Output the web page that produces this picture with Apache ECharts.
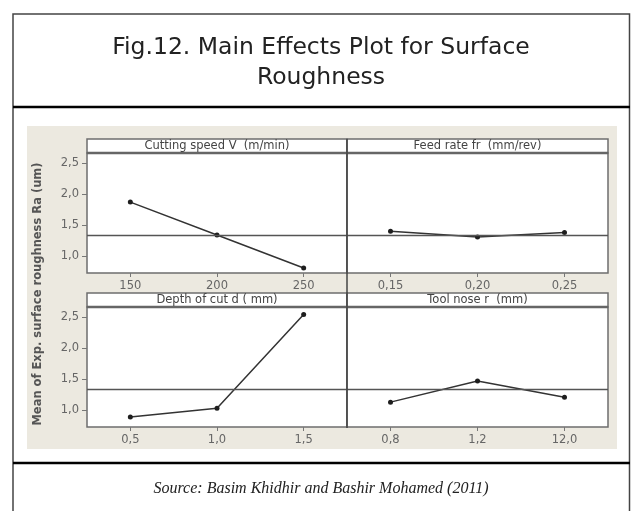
<!DOCTYPE html>
<html>
<head>
<meta charset="utf-8">
<script src="https://cdn.jsdelivr.net/npm/echarts@6/dist/echarts.min.js"></script>
<style>
  html, body { margin: 0; padding: 0; background: #ffffff; }
  #chart { width: 631px; height: 511px; }
</style>
</head>
<body>
<div id="chart"></div>
<script>
// Factor levels and mean surface roughness Ra (um) at each level
const speedLevels = ['150', '200', '250'];
const speedMeans = [1.87, 1.34, 0.81];

const feedLevels = ['0,15', '0,20', '0,25'];
const feedMeans = [1.40, 1.31, 1.38];

const depthLevels = ['0,5', '1,0', '1,5'];
const depthMeans = [0.89, 1.03, 2.54];

const noseLevels = ['0,8', '1,2', '12,0'];
const noseMeans = [1.13, 1.47, 1.21];

// Overall mean drawn as the reference line in every panel
const grandMean = 1.34;

// Y-axis tick values
const yTickValues = [1.0, 1.5, 2.0, 2.5];

const panelTitles = [
  'Cutting speed V  (m/min)',
  'Feed rate fr  (mm/rev)',
  'Depth of cut d ( mm)',
  'Tool nose r  (mm)'
];

const figureTitle = 'Fig.12. Main Effects Plot for Surface\nRoughness';
const sourceNote = 'Source: Basim Khidhir and Bashir Mohamed (2011)';
const yAxisTitle = 'Mean of Exp. surface roughness Ra (um)';

// ---- layout ----
const PANEL_LEFT = [87, 347];
const PANEL_W = [260, 261];
const STRIP_TOP = [139, 293];
const STRIP_H = 14;
const PLOT_H = 120;
const Y_MIN = 0.73, Y_MAX = 2.66;

const panels = [
  { levels: speedLevels, means: speedMeans, col: 0, row: 0 },
  { levels: feedLevels, means: feedMeans, col: 1, row: 0 },
  { levels: depthLevels, means: depthMeans, col: 0, row: 1 },
  { levels: noseLevels, means: noseMeans, col: 1, row: 1 }
];

const fmt = v => v.toFixed(1).replace('.', ',');

const grids = [], xAxes = [], yAxes = [], series = [], graphics = [];

// beige plotting backdrop
graphics.push({
  type: 'rect', z: -5,
  shape: { x: 27, y: 126, width: 590, height: 323 },
  style: { fill: '#ECE9E0' }
});

panels.forEach((p, i) => {
  const left = PANEL_LEFT[p.col];
  const width = PANEL_W[p.col];
  const stripTop = STRIP_TOP[p.row];
  const plotTop = stripTop + STRIP_H;
  grids.push({
    left: left, top: plotTop, width: width, height: PLOT_H,
    show: true, backgroundColor: '#ffffff',
    borderColor: '#6e6e6e', borderWidth: 1.5
  });
  xAxes.push({
    type: 'category', gridIndex: i, data: p.levels, boundaryGap: true,
    axisLine: { show: false },
    axisTick: { show: true, alignWithLabel: true, length: 4, lineStyle: { color: '#777' } },
    axisLabel: { color: '#666', fontFamily: 'DejaVu Sans', fontSize: 11.5, margin: 7 },
    splitLine: { show: false }
  });
  const showY = p.col === 0;
  yAxes.push({
    type: 'value', gridIndex: i, min: Y_MIN, max: Y_MAX,
    axisLine: { show: false },
    axisTick: { show: showY, length: 5, customValues: yTickValues, lineStyle: { color: '#777' } },
    axisLabel: { show: showY, customValues: yTickValues, formatter: fmt,
      color: '#666', fontFamily: 'DejaVu Sans', fontSize: 11.5, margin: 8 },
    splitLine: { show: false }
  });
  series.push({
    type: 'line', xAxisIndex: i, yAxisIndex: i, data: p.means,
    symbol: 'circle', symbolSize: 5, silent: true,
    itemStyle: { color: '#1e1e1e' },
    lineStyle: { color: '#333333', width: 1.5 },
    markLine: {
      silent: true, symbol: 'none', label: { show: false },
      lineStyle: { color: '#555555', width: 1.3, type: 'solid' },
      data: [{ yAxis: grandMean }]
    }
  });
  // strip with factor name
  graphics.push({
    type: 'rect', z: 10,
    shape: { x: left, y: stripTop, width: width, height: STRIP_H },
    style: { fill: '#ffffff', stroke: '#6e6e6e', lineWidth: 1.5 }
  });
  graphics.push({
    type: 'line', z: 11,
    shape: { x1: left, y1: plotTop, x2: left + width, y2: plotTop },
    style: { stroke: '#666666', lineWidth: 2.5 }
  });
  graphics.push({
    type: 'text', z: 12,
    x: left + width / 2, y: stripTop + STRIP_H / 2 + 0.5,
    style: {
      text: panelTitles[i], fill: '#444', font: '11.5px "DejaVu Sans"',
      align: 'center', verticalAlign: 'middle'
    }
  });
});

// vertical divider between left and right columns
graphics.push({
  type: 'line', z: 13,
  shape: { x1: 347, y1: 139, x2: 347, y2: 428 },
  style: { stroke: '#444', lineWidth: 1.5 }
});

// y-axis title
graphics.push({
  type: 'text', z: 12,
  x: 38, y: 294, rotation: Math.PI / 2,
  style: {
    text: yAxisTitle, fill: '#555', font: 'bold 11.5px "DejaVu Sans"',
    align: 'center', verticalAlign: 'middle'
  }
});

// figure frame
graphics.push({
  type: 'polyline', z: 20,
  shape: { points: [[13, 520], [13, 14], [629.5, 14], [629.5, 520]] },
  style: { stroke: '#444', lineWidth: 1.5, fill: null }
});
graphics.push({
  type: 'line', z: 20,
  shape: { x1: 13, y1: 107, x2: 630, y2: 107 },
  style: { stroke: '#000', lineWidth: 2.5 }
});
graphics.push({
  type: 'line', z: 20,
  shape: { x1: 13, y1: 463, x2: 630, y2: 463 },
  style: { stroke: '#000', lineWidth: 2.5 }
});

// figure caption and source note
graphics.push({
  type: 'text', z: 20, x: 321, y: 63,
  style: {
    text: figureTitle, fill: '#222', font: '23.5px "DejaVu Sans"',
    align: 'center', verticalAlign: 'middle', lineHeight: 30
  }
});
graphics.push({
  type: 'text', z: 20, x: 321, y: 489,
  style: {
    text: sourceNote, fill: '#222', font: 'italic 16px "Liberation Serif"',
    align: 'center', verticalAlign: 'middle'
  }
});

const chart = echarts.init(document.getElementById('chart'), null, { renderer: 'canvas' });
chart.setOption({
  animation: false,
  backgroundColor: '#ffffff',
  grid: grids,
  xAxis: xAxes,
  yAxis: yAxes,
  series: series,
  graphic: { elements: graphics }
});
</script>
</body>
</html>
